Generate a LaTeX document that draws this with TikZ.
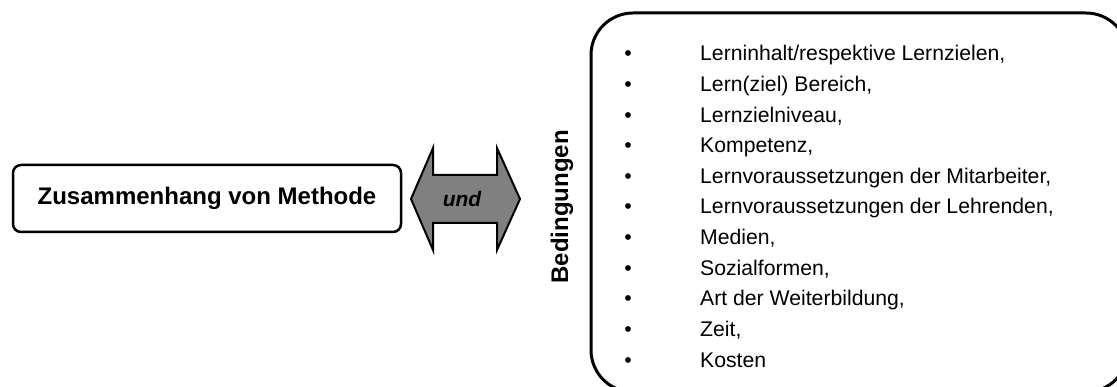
\documentclass[tikz,border=0pt]{standalone}
\usepackage{fontspec}
\setmainfont{Liberation Sans}
\begin{document}
\begin{tikzpicture}[x=1pt,y=-1pt,
  box/.style={draw,line width=2.5pt,rounded corners=8pt,inner sep=0pt},
  arrowshape/.style={draw,line width=2pt,fill=gray,line join=miter},
  entry/.style={anchor=base west,inner sep=0pt,font=\fontsize{21.2}{25}\selectfont},
  dot/.style={anchor=base,inner sep=0pt,font=\fontsize{21.2}{25}\selectfont}]
  \useasboundingbox (0,0) rectangle (1117,387);
  % linke Box
  \node[box,minimum width=388pt,minimum height=67pt,
    font=\bfseries\fontsize{24}{28}\selectfont] (meth) at (207,198.5) {Zusammenhang von Methode};
  % Doppelpfeil
  \draw[arrowshape] (411,199) -- (433,148) -- (433,175) -- (497,175) -- (497,148)
    -- (520,199) -- (497,250) -- (497,223) -- (433,223) -- (433,250) -- cycle;
  \node[font=\bfseries\itshape\fontsize{21}{24}\selectfont] (und) at (462,199) {und};
  % rechte Box
  \node[draw,line width=3pt,rounded corners=42pt,minimum width=537pt,minimum height=379pt]
    (cond) at (859.5,202.5) {};
  \node[rotate=90,font=\bfseries\fontsize{24}{26}\selectfont] (bed) at (562,207) {Bedingungen};
  \foreach \t [count=\i] in {{Lerninhalt/respektive Lernzielen,},{Lern(ziel) Bereich,},
      {Lernzielniveau,},{Kompetenz,},{Lernvoraussetzungen der Mitarbeiter,},
      {Lernvoraussetzungen der Lehrenden,},{Medien,},{Sozialformen,},
      {Art der Weiterbildung,},{Zeit,},{Kosten}}{
    \node[dot] (bul\i) at (628,{61+30.6*(\i-1)}) {•};
    \node[entry] (item\i) at (700,{61+30.6*(\i-1)}) {\t};
  }
\end{tikzpicture}
\end{document}
